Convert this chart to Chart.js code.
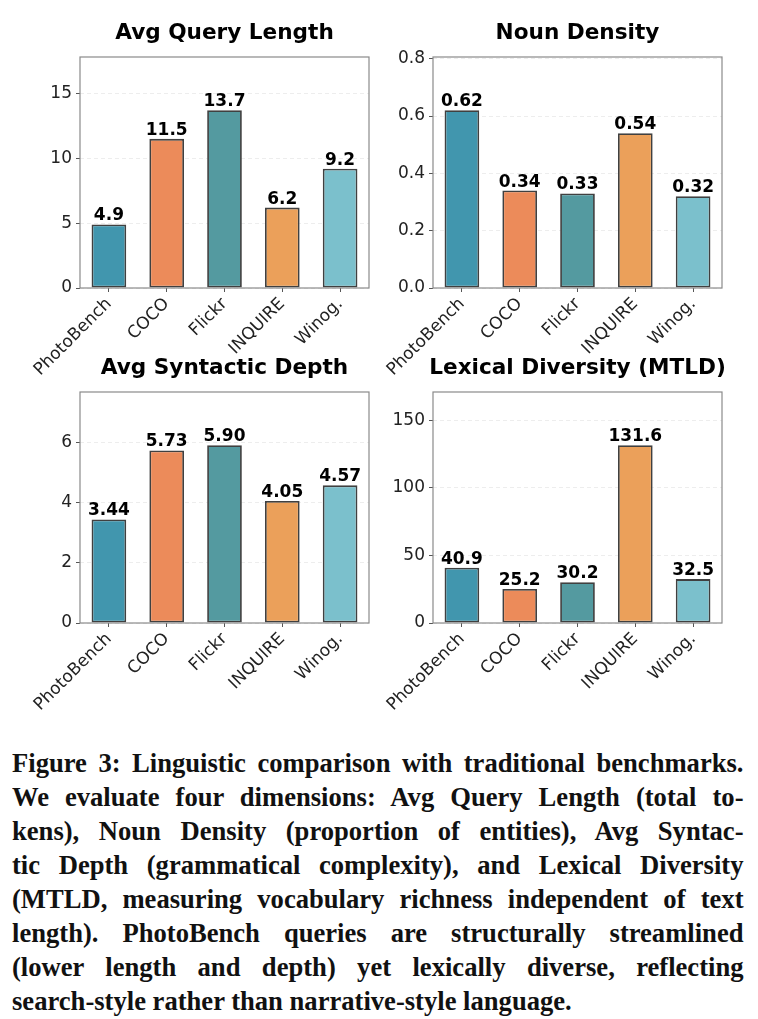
<!DOCTYPE html>
<html>
<head>
<meta charset="utf-8">
<script src="https://cdn.jsdelivr.net/npm/chart.js@4.4.0/dist/chart.umd.min.js"></script>
<style>
  body { margin: 0; background: #fff; }
  #page { position: relative; width: 758px; height: 1019px; overflow: hidden; }
  canvas { position: absolute; }
  #caption {
    position: absolute; left: 12px; top: 746px; width: 770px;
    transform: scaleX(0.95); transform-origin: 0 0;
    font-family: "Liberation Serif", serif; font-weight: bold; font-size: 28px; color: #111;
  }
  #caption div { height: 34px; line-height: 34px; white-space: nowrap; text-align: justify; text-align-last: justify; }
  #caption div.last { text-align-last: left; }
</style>
</head>
<body>
<div id="page">
  <canvas id="lenChart" width="379" height="385" style="left:0;top:0"></canvas>
  <canvas id="nounChart" width="379" height="385" style="left:379px;top:0"></canvas>
  <canvas id="depthChart" width="379" height="385" style="left:0;top:335px"></canvas>
  <canvas id="mtldChart" width="379" height="385" style="left:379px;top:335px"></canvas>
  <div id="caption">
    <div>Figure 3: Linguistic comparison with traditional benchmarks.</div>
    <div>We evaluate four dimensions: Avg Query Length (total to-</div>
    <div>kens), Noun Density (proportion of entities), Avg Syntac-</div>
    <div>tic Depth (grammatical complexity), and Lexical Diversity</div>
    <div>(MTLD, measuring vocabulary richness independent of text</div>
    <div>length). PhotoBench queries are structurally streamlined</div>
    <div>(lower length and depth) yet lexically diverse, reflecting</div>
    <div class="last">search-style rather than narrative-style language.</div>
  </div>
</div>
<script>
const benchmarks = ['PhotoBench', 'COCO', 'Flickr', 'INQUIRE', 'Winog.'];
const queryLength = [4.9, 11.5, 13.7, 6.2, 9.2];
const nounDensity = [0.62, 0.34, 0.33, 0.54, 0.32];
const syntacticDepth = [3.44, 5.73, 5.90, 4.05, 4.57];
const lexicalDiversity = [40.9, 25.2, 30.2, 131.6, 32.5];
const barColors = ['#4196AE', '#EC8B5A', '#549AA0', '#EBA05A', '#7BC0CC'];

const font = 'DejaVu Sans';

// value labels above each bar
const valueLabels = {
    id: 'valueLabels',
    afterDatasetsDraw(chart, args, opts) {
        const ctx = chart.ctx;
        const meta = chart.getDatasetMeta(0);
        ctx.save();
        ctx.font = 'bold 17px "' + font + '"';
        ctx.fillStyle = '#000';
        ctx.textAlign = 'center';
        ctx.textBaseline = 'alphabetic';
        meta.data.forEach((bar, i) => {
            const v = chart.data.datasets[0].data[i];
            ctx.fillText(v.toFixed(opts.digits), bar.x, bar.y - 4);
        });
        ctx.restore();
    }
};

// matplotlib-style box around the axes + title centred over the plot area
const frame = {
    id: 'frame',
    afterDraw(chart, args, opts) {
        const a = chart.chartArea;
        const ctx = chart.ctx;
        ctx.save();
        ctx.strokeStyle = '#8a8a8a';
        ctx.lineWidth = 1.2;
        ctx.strokeRect(a.left, a.top, a.right - a.left, a.bottom - a.top);
        ctx.font = 'bold 21.6px "' + font + '"';
        ctx.fillStyle = '#000';
        ctx.textAlign = 'center';
        ctx.textBaseline = 'alphabetic';
        ctx.fillText(opts.title, (a.left + a.right) / 2, 38.7);
        ctx.restore();
    }
};

function makeChart(id, title, values, yMax, step, tickDigits, valueDigits, yWidth, padRight) {
    new Chart(document.getElementById(id), {
        type: 'bar',
        data: {
            labels: benchmarks,
            datasets: [{
                data: values,
                backgroundColor: barColors,
                borderColor: '#404040',
                borderWidth: 1.8,
                borderSkipped: false,
                barPercentage: 0.6,
                categoryPercentage: 1.0
            }]
        },
        options: {
            responsive: false,
            animation: false,
            layout: { padding: { left: 0, right: padRight, top: 57, bottom: 0 } },
            plugins: {
                legend: { display: false },
                tooltip: { enabled: false },
                title: { display: false },
                valueLabels: { digits: valueDigits },
                frame: { title: title }
            },
            scales: {
                x: {
                    afterFit: (s) => { s.height = 97; },
                    grid: { drawOnChartArea: false, offset: false, tickLength: 4, tickColor: '#555', tickWidth: 1 },
                    border: { display: false },
                    ticks: {
                        autoSkip: false, minRotation: 45, maxRotation: 45, padding: 2,
                        color: '#222', font: { family: font, size: 17 }
                    }
                },
                y: {
                    min: 0,
                    max: yMax,
                    afterFit: (s) => { s.width = yWidth; },
                    grid: { color: 'rgba(0,0,0,0.09)', lineWidth: 0.8, tickLength: 4, tickColor: '#555', tickWidth: 1, tickBorderDash: [] },
                    border: { display: false, dash: [4, 3] },
                    ticks: {
                        stepSize: step, includeBounds: false, padding: 4,
                        color: '#222', font: { family: font, size: 17 },
                        callback: (v) => v.toFixed(tickDigits)
                    }
                }
            }
        },
        plugins: [valueLabels, frame]
    });
}

makeChart('lenChart', 'Avg Query Length', queryLength, 13.7 * 1.3, 5, 0, 1, 80, 10);
makeChart('nounChart', 'Noun Density', nounDensity, 0.62 * 1.3, 0.2, 1, 2, 54, 36);
makeChart('depthChart', 'Avg Syntactic Depth', syntacticDepth, 5.90 * 1.3, 2, 0, 2, 80, 10);
makeChart('mtldChart', 'Lexical Diversity (MTLD)', lexicalDiversity, 131.6 * 1.3, 50, 0, 1, 54, 36);
</script>
</body>
</html>
